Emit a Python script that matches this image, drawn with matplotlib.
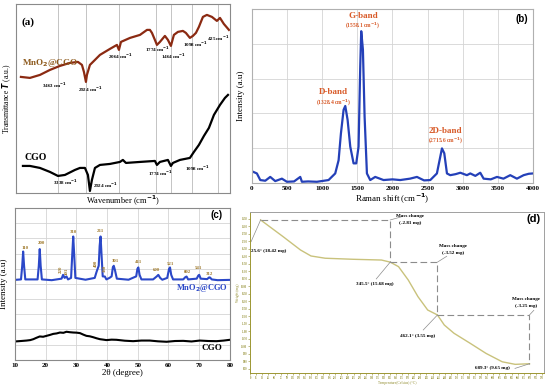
import numpy as np
import matplotlib
matplotlib.use("Agg")
import matplotlib.pyplot as plt

plt.rcParams['font.family'] = ['Liberation Serif', 'DejaVu Sans']
plt.rcParams['font.weight'] = 'bold'

# ---------------- (a) FTIR ----------------
ftir_mno2_wn = [3929, 3800, 3657, 3514, 3366, 3196, 3060, 2992, 2958, 2924, 2898, 2820,
                2689, 2559, 2298, 2116, 2064, 2048, 1977, 1899, 1844, 1821, 1805, 1782,
                1753, 1691, 1588, 1526, 1464, 1412, 1342, 1255, 1203, 1133, 1072, 994,
                917, 813, 710, 580, 451, 412, 388, 356]
ftir_mno2_t = [11.6, 11.5, 11.8, 12.3, 12.7, 13.0, 13.1, 12.8, 12.1, 11.1, 11.8, 12.8,
               13.3, 13.8, 14.4, 14.8, 14.3, 15.1, 15.5, 15.8, 16.3, 16.3, 16.0, 15.3,
               14.8, 15.1, 15.7, 15.3, 14.7, 15.8, 16.1, 16.2, 16.0, 15.5, 15.7, 16.0,
               16.6, 17.6, 17.8, 17.6, 17.2, 17.5, 16.9, 16.3]
ftir_cgo_wn = [3900, 3800, 3657, 3514, 3400, 3281, 3111, 3026, 2941, 2872, 2820, 2768,
               2689, 2559, 2298, 2056, 2033, 2009, 1899, 1782, 1753, 1691, 1526, 1464,
               1429, 1307, 1133, 1046, 917, 787, 658, 528, 412, 381, 362]
ftir_cgo_t = [2.7, 2.7, 2.5, 2.1, 1.7, 1.8, 2.3, 2.5, 2.5, 1.8, 0.2, 1.3,
              2.5, 2.8, 2.9, 3.1, 3.3, 3.0, 3.1, 3.2, 2.8, 3.1, 3.3, 2.7,
              3.0, 3.3, 3.5, 4.1, 4.8, 5.7, 6.5, 7.8, 8.8, 9.5, 9.8]
ftir_peaks = [3400, 2924, 2064, 1774, 1464, 1098, 425]
# non-uniform wavenumber axis of the original (increasing wavenumber -> position)
axis_wn = np.array([350, 425, 1098, 1464, 1774, 2064, 2924, 3400, 4000], dtype=float)
axis_pos = np.array([16, 28, 54, 75, 90, 127, 160, 188, 230], dtype=float)

# ---------------- (b) Raman ----------------
raman_x = [14, 71, 119, 190, 261, 332, 427, 498, 600, 688, 712, 800, 925, 1091, 1186, 1234,
           1267, 1305, 1329, 1362, 1400, 1447, 1485, 1518, 1542, 1556, 1580, 1604, 1637,
           1684, 1755, 1874, 2000, 2111, 2250, 2349, 2450, 2539, 2633, 2671, 2705, 2738,
           2776, 2823, 2900, 2966, 3060, 3108, 3180, 3250, 3298, 3400, 3488, 3580, 3677,
           3772, 3867, 3940, 4000]
raman_y = [0.32, 0.27, 0.08, 0.06, 0.17, 0.05, 0.12, 0.03, 0.04, 0.17, 0.03, 0.04, 0.03, 0.08,
           0.27, 0.65, 1.42, 2.10, 2.21, 1.81, 1.04, 0.56, 0.56, 1.04, 3.35, 4.36, 3.83,
           1.90, 0.27, 0.08, 0.17, 0.08, 0.10, 0.08, 0.12, 0.17, 0.07, 0.08, 0.27, 0.65,
           0.99, 0.85, 0.27, 0.22, 0.25, 0.29, 0.22, 0.27, 0.20, 0.29, 0.12, 0.10, 0.17,
           0.12, 0.22, 0.12, 0.22, 0.26, 0.27]
raman_bands = ["G-band", "D-band", "2D-band"]
raman_band_pos = ["(1558.1 cm$^{-1}$)", "(1328.4 cm$^{-1}$)", "(2715.6 cm$^{-1}$)"]

# ---------------- (c) XRD ----------------
xrd_mno2_x = [10, 12.0, 12.4, 12.7, 13.0, 13.4, 17.4, 17.8, 18.1, 18.4, 18.8, 22, 25.2, 25.7,
              26.2, 26.8, 27.3, 28.3, 28.7, 29.0, 29.3, 29.7, 33, 36.0, 36.6, 37.3, 37.6,
              37.9, 38.2, 38.6, 39.3, 39.8, 40.8, 41.5, 41.9, 42.2, 42.6, 43.2, 47, 49.5,
              49.9, 50.2, 50.6, 51.2, 55, 56.2, 56.7, 57.3, 58, 59.6, 60.2, 60.5, 60.9, 61.5,
              64.8, 65.5, 65.9, 66.4, 69.2, 69.7, 70.0, 70.5, 72.6, 73.2, 73.5, 74.1, 76, 80]
xrd_mno2_y = [5.27, 5.3, 6.2, 7.14, 6.2, 5.3, 5.3, 6.2, 7.30, 6.2, 5.3, 5.25, 5.35, 5.6,
              5.4, 5.5, 5.3, 5.4, 7.0, 8.13, 7.0, 5.4, 5.28, 5.4, 5.8, 6.2, 7.5,
              8.13, 7.0, 5.5, 5.49, 5.3, 5.4, 5.5, 6.1, 6.2, 5.9, 5.35, 5.28, 5.5,
              6.0, 6.09, 5.6, 5.3, 5.3, 5.5, 5.6, 5.4, 5.28, 5.4, 6.0, 6.09, 5.6, 5.3,
              5.3, 5.45, 5.49, 5.3, 5.35, 5.55, 5.6, 5.35, 5.32, 5.43, 5.43, 5.3, 5.25, 5.27]
xrd_cgo_x = [10, 12, 13.8, 15, 16, 17, 18.1, 19.2, 20.3, 21.4, 22.5, 23.6, 24.7, 25.8, 26.8,
             27.9, 29.0, 30.1, 31.2, 32.3, 33.3, 34.4, 35.5, 36.6, 37.7, 38.8, 39.8, 41.5,
             43.1, 45.8, 48.5, 51.2, 53.9, 56.6, 59.4, 62.1, 64.8, 67.5, 70.2, 73, 75.7, 78, 80]
xrd_cgo_y = [1.21, 1.24, 1.27, 1.3, 1.36, 1.45, 1.54, 1.52, 1.58, 1.64, 1.71, 1.74, 1.80, 1.78,
             1.85, 1.82, 1.80, 1.79, 1.76, 1.66, 1.58, 1.55, 1.49, 1.42, 1.36, 1.33, 1.30,
             1.33, 1.32, 1.26, 1.23, 1.27, 1.27, 1.22, 1.19, 1.24, 1.25, 1.21, 1.27, 1.24,
             1.23, 1.27, 1.32]
xrd_hkl = ["110", "200", "220", "101", "310", "400", "211", "330", "301", "411", "600",
           "521", "002", "541", "312"]
xrd_hkl_x = [13.5, 18.5, 24.9, 26.9, 29.0, 36.3, 37.9, 39.4, 42.6, 50.2, 56.1, 60.7, 66.1, 69.9, 73.5]
xrd_hkl_y = [7.4, 7.69, 5.98, 5.85, 8.42, 6.37, 8.5, 6.0, 6.53, 6.44, 5.93, 6.33, 5.82, 6.04, 5.67]
xrd_hkl_rot = [0, 0, 90, 90, 0, 90, 0, 90, 0, 0, 0, 0, 0, 0, 0]

# ---------------- (d) TGA ----------------
tga_temp = [25.6, 81, 124, 150, 185, 254, 324, 345.5, 366, 390, 414, 438, 462.1, 479,
            503, 543, 582, 622, 654, 689.3]
tga_mass = [18.42, 17.31, 16.42, 16.02, 15.87, 15.80, 15.75, 15.61, 15.31, 14.42, 13.31,
            12.42, 12.09, 11.42, 10.87, 10.20, 9.53, 8.97, 8.80, 8.84]
step_temp = [25.6, 345.5, 462.1, 689.3]
step_mass = [18.42, 15.61, 12.09, 8.84]
step_labels = ["25.6° (18.42 mg)", "345.5° (15.68 mg)", "462.1° (3.55 mg)", "689.3° (9.65 mg)"]
mass_change = ["(-2.81 mg)", "(-3.52 mg)", "(-3.25 mg)"]

fig = plt.figure(figsize=(5.5, 3.89), dpi=100)

# ===== (a) =====
ax = fig.add_axes([0.029, 0.504, 0.389, 0.486])
fwd = lambda w: np.interp(np.asarray(w, float), axis_wn, axis_pos)
inv = lambda p: np.interp(np.asarray(p, float), axis_pos, axis_wn)
ax.set_xscale('function', functions=(fwd, inv))
ax.set_xlim(4000, 350)
ax.set_ylim(0, 18.9)
ax.plot(ftir_mno2_wn, ftir_mno2_t, color="#8B2A12", lw=1.6, zorder=2)
ax.plot(ftir_cgo_wn, ftir_cgo_t, color="black", lw=1.6, zorder=2)
# peak marker lines drawn as x-grid at the peak positions
ax.set_xticks(ftir_peaks)
ax.set_xticks([], minor=True)
ax.tick_params(axis="x", which="both", length=0, labelbottom=False)
ax.grid(axis="x", color="#C4C4C4", lw=0.7)
ax.set_yticks([])
for s in ax.spines.values():
    s.set_color("#8A8A8A")
    s.set_linewidth(0.8)
ax.set_xlabel("Wavenumber (cm$^{-1}$)", fontsize=6, labelpad=1)
ax.set_ylabel("Transmittance $\\mathbfit{T}$ (a.u.)", fontsize=5.5, labelpad=2)
ax.text(0.056, 0.905, "(a)", transform=ax.transAxes, fontsize=8, ha="center", va="center")
ax.text(0.028, 0.688, "MnO$_2$@CGO", transform=ax.transAxes, fontsize=6.5,
        color="#8E5B1E", ha="left", va="center")
ax.text(0.042, 0.185, "CGO", transform=ax.transAxes, fontsize=7, ha="left", va="center")
lab_a = [("3463", 0.182, 0.571), ("2924", 0.346, 0.550), ("2064", 0.486, 0.725),
         ("1774", 0.659, 0.757), ("1464", 0.738, 0.720), ("1098", 0.841, 0.788),
         ("425", 0.944, 0.820), ("3338", 0.229, 0.058), ("2924", 0.416, 0.042),
         ("1774", 0.673, 0.101), ("1098", 0.846, 0.132)]
for t, fx, fy in lab_a:
    ax.text(fx, fy, t + " cm$^{-1}$", transform=ax.transAxes, fontsize=3.6,
            ha="center", va="center")

# ===== (b) =====
ax = fig.add_axes([0.458, 0.530, 0.511, 0.447])
ax.plot(raman_x, raman_y, color="#2440B8", lw=1.6)
ax.set_xlim(0, 4000)
ax.set_ylim(0, 5)
ax.set_xticks(np.arange(0, 4001, 500))
ax.set_yticks(np.arange(0, 6, 1))
ax.set_yticklabels([])
ax.tick_params(length=0, labelsize=5, pad=2)
ax.grid(color="#D5D5D5", lw=0.6)
for s in ax.spines.values():
    s.set_color("#B0B0B0")
    s.set_linewidth(0.8)
ax.set_xlabel("Raman shift (cm$^{-1}$)", fontsize=6.5, labelpad=1)
ax.set_ylabel("Intensity (a.u)", fontsize=6.5, labelpad=3)
band_xy = [(1580, 4.81), (1163, 2.60), (2752, 1.49)]
for name, pos, (bx, by) in zip(raman_bands, raman_band_pos, band_xy):
    ax.text(bx, by, name, fontsize=6.5, color="#D85A28", ha="center", va="center")
    ax.text(bx, by - 0.27, pos, fontsize=4, color="#D85A28", ha="center", va="center")
ax.text(0.96, 0.94, "(b)", transform=ax.transAxes, fontsize=7, ha="center", va="center",
        family="Liberation Sans")

# ===== (c) =====
ax = fig.add_axes([0.027, 0.075, 0.391, 0.390])
ax.plot(xrd_mno2_x, xrd_mno2_y, color="#2B48C8", lw=1.5)
ax.plot(xrd_cgo_x, xrd_cgo_y, color="black", lw=1.5)
ax.set_xlim(10, 80)
ax.set_ylim(0, 10)
ax.set_xticks(np.arange(10, 81, 10))
ax.set_yticks(np.arange(0, 11, 1))
ax.set_yticklabels([])
ax.tick_params(length=0, labelsize=5, pad=2)
ax.grid(color="#D5D5D5", lw=0.6)
for s in ax.spines.values():
    s.set_color("#8A8A8A")
    s.set_linewidth(0.8)
ax.set_xlabel("2θ (degree)", fontsize=6.5, labelpad=1)
ax.set_ylabel("Intensity (a.u)", fontsize=6.5, labelpad=3)
for t, hx, hy, r in zip(xrd_hkl, xrd_hkl_x, xrd_hkl_y, xrd_hkl_rot):
    ax.text(hx, hy, t, fontsize=3.5, color="#A07A2C", rotation=r, ha="center", va="center")
ax.text(79.5, 4.73, "MnO$_2$@CGO", fontsize=6, color="#2B48C8", ha="right", va="center")
ax.text(77.5, 0.77, "CGO", fontsize=6.5, ha="right", va="center")
ax.text(0.938, 0.954, "(c)", transform=ax.transAxes, fontsize=7, ha="center", va="center",
        family="Liberation Sans")

# ===== (d) =====
ax = fig.add_axes([0.455, 0.041, 0.534, 0.414])
ax.plot(tga_temp, tga_mass, color="#C9C27C", lw=1.0)
for i in range(len(step_temp) - 1):
    ax.plot([step_temp[i], step_temp[i + 1], step_temp[i + 1]],
            [step_mass[i], step_mass[i], step_mass[i + 1]],
            color="#8C8C8C", lw=0.8, ls=(0, (6, 3)))
ax.set_xlim(0, 725)
ax.set_ylim(8.22, 18.95)
ax.set_xticks(np.arange(0, 721, 15))
ax.set_xticklabels([f"{v:.0f}" for v in np.arange(0, 721, 15)])
ax.set_yticks(np.arange(8.5, 18.6, 0.5))
ax.set_yticklabels([f"{v:.2f}" for v in np.arange(8.5, 18.6, 0.5)])
ax.tick_params(length=1.2, width=0.4, labelsize=1.8, pad=1, colors="#8F8A2A")
for s in ax.spines.values():
    s.set_color("#A0A0A0")
    s.set_linewidth(0.7)
ax.spines["left"].set_color("#9C9632")
ax.spines["bottom"].set_color("#9C9632")
ax.set_xlabel("Temperature(Celsius) (°C)", fontsize=2.6, color="#8F8A2A", labelpad=1)
ax.set_ylabel("Weight (mg)", fontsize=2.6, color="#8F8A2A", labelpad=1)
# point labels with their leader lines
lab_d = [(2.5, 16.35, "left"), (308, 14.15, "center"), (413.5, 10.69, "center"),
         (598.5, 8.55, "center")]
lead_d = [(2, 16.97), (311, 14.49), (427, 11.09), (653.5, 8.53)]
for (lx, ly, ha), (ex, ey), t, st, sm in zip(lab_d, lead_d, step_labels, step_temp, step_mass):
    ax.plot([ex, st], [ey, sm], color="#8C8C8C", lw=0.5)
    ax.text(lx, ly, t, fontsize=3.7, ha=ha, va="center")
mc_xy = [(395, 18.69), (501, 16.71), (682, 13.15)]
mc_lead = [(372, 18.62), (485, 16.0), (700, 12.4)]
for (mx, my), (ex, ey), t, st, sm in zip(mc_xy, mc_lead, mass_change, step_temp[1:], step_mass[:-1]):
    ax.plot([st, ex], [sm, ey], color="#8C8C8C", lw=0.5)
    ax.text(mx, my, "Mass change", fontsize=3.7, ha="center", va="center")
    ax.text(mx, my - 0.47, t, fontsize=3.7, ha="center", va="center")
ax.text(0.963, 0.955, "(d)", transform=ax.transAxes, fontsize=8, ha="center", va="center",
        family="Liberation Sans")

fig.savefig("out.png", dpi=100)
